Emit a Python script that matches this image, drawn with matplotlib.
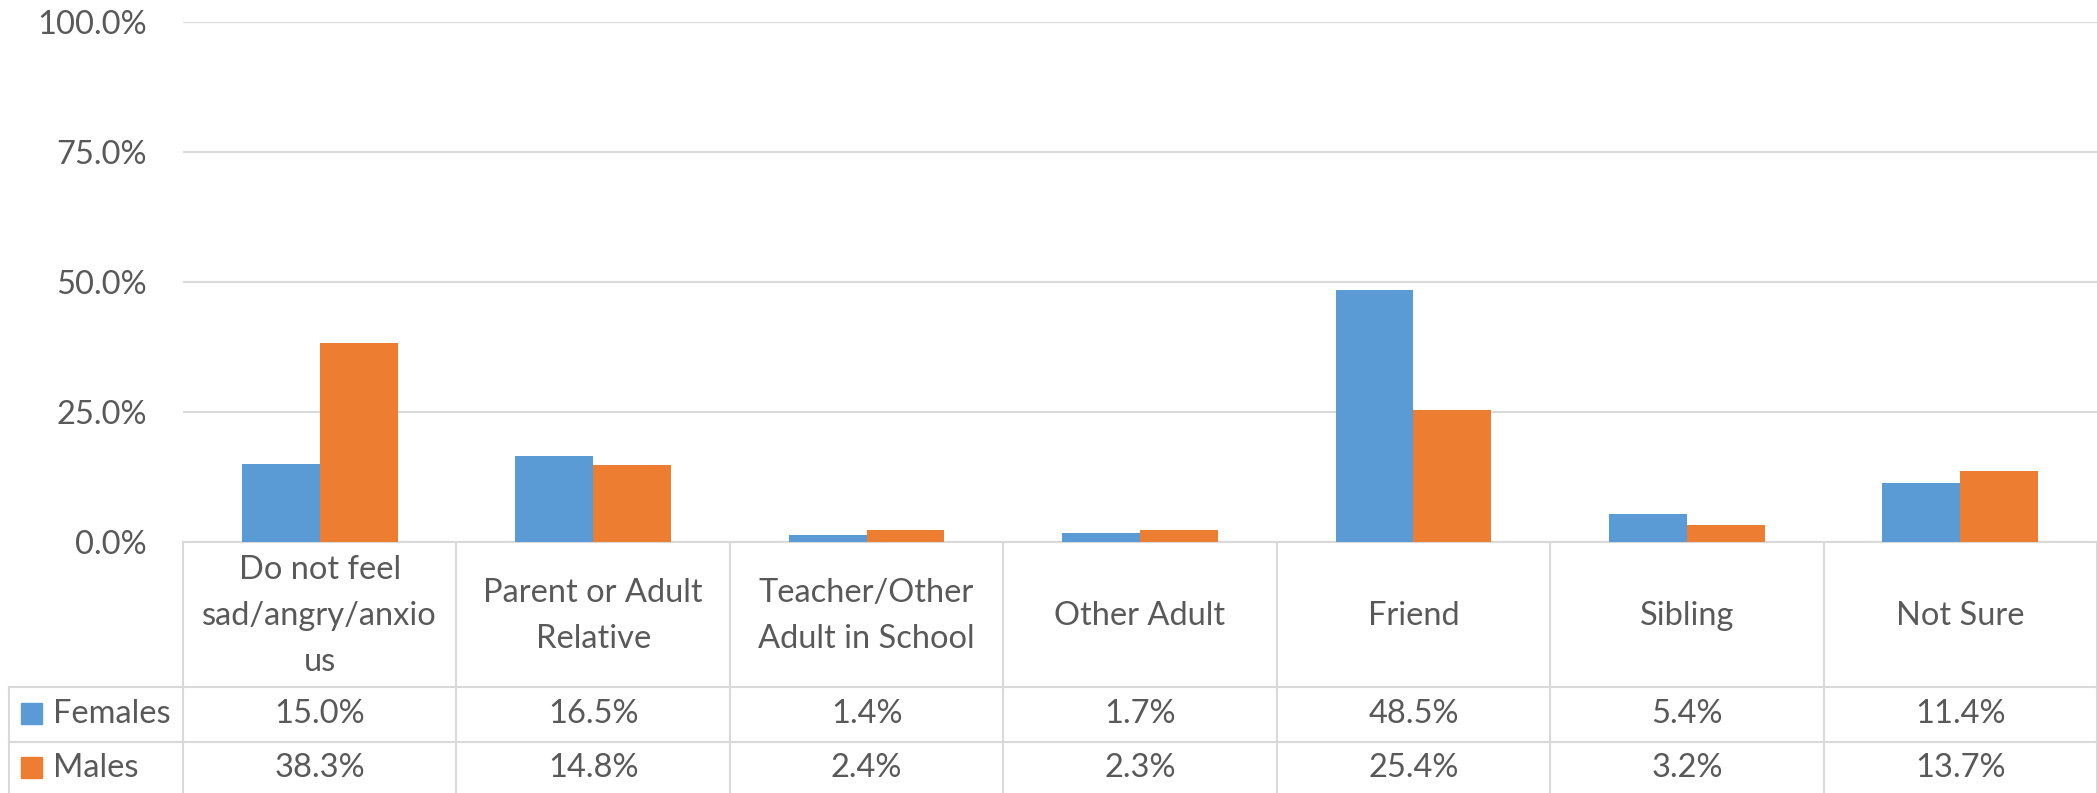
import numpy as np
import matplotlib
matplotlib.use('Agg')
import matplotlib.pyplot as plt
import matplotlib.transforms as mtransforms
from matplotlib.patches import Rectangle

plt.rcParams['font.family'] = ['Lato', 'DejaVu Sans']

# Data
categories = ['Do not feel\nsad/angry/anxio\nus', 'Parent or Adult\nRelative',
              'Teacher/Other\nAdult in School', 'Other Adult', 'Friend',
              'Sibling', 'Not Sure']
females = [15.0, 16.5, 1.4, 1.7, 48.5, 5.4, 11.4]
males = [38.3, 14.8, 2.4, 2.3, 25.4, 3.2, 13.7]
series_names = ['Females', 'Males']
yticks = [0, 25, 50, 75, 100]

blue = '#5B9BD5'
orange = '#ED7D31'
grid_c = '#D9D9D9'
text_c = '#595959'
fs = 23.5

W, H = 2097, 793
fig = plt.figure(figsize=(W / 100, H / 100), dpi=100)

def fy(py):
    return 1 - py / H

def fx(px):
    return px / W

ax_left, ax_top, ax_bottom = 183, 22, 542
ax = fig.add_axes([fx(ax_left), fy(ax_bottom), 1 - fx(ax_left), fy(ax_top) - fy(ax_bottom)])

x = np.arange(len(categories))
bw = 0.285
ax.bar(x - bw / 2, females, bw, color=blue, zorder=3)
ax.bar(x + bw / 2, males, bw, color=orange, zorder=3)

ax.set_xlim(-0.5, len(categories) - 0.5)
ax.set_ylim(0, 100)
ax.set_yticks(yticks)
ax.set_yticklabels([f'{v:.1f}%' for v in yticks], fontsize=fs, color=text_c)
ax.tick_params(axis='y', length=0, pad=26)
ax.tick_params(axis='x', length=0, labelbottom=False)
ax.grid(axis='y', color=grid_c, linewidth=1.5, zorder=0)
for s in ['top', 'right', 'left']:
    ax.spines[s].set_visible(False)
ax.spines['bottom'].set_color(grid_c)
ax.spines['bottom'].set_linewidth(1.5)

# data table below the axis
trans = mtransforms.blended_transform_factory(ax.transData, fig.transFigure)
row1, row2, tleft = 687, 742, 9
for i in range(len(categories) + 1):
    ax.plot([i - 0.5, i - 0.5], [fy(ax_bottom), 0], transform=trans, color=grid_c,
            lw=1.5, clip_on=False)
fig.add_artist(plt.Line2D([fx(tleft), 1], [fy(row1), fy(row1)], color=grid_c, lw=1.5))
fig.add_artist(plt.Line2D([fx(tleft), 1], [fy(row2), fy(row2)], color=grid_c, lw=1.5))
fig.add_artist(plt.Line2D([fx(tleft), fx(tleft)], [fy(row1), 0], color=grid_c, lw=1.5))

for i, cat in enumerate(categories):
    ax.text(i, fy(616), cat, transform=trans, ha='center', va='center',
            fontsize=fs, color=text_c, linespacing=1.65)
    ax.text(i, fy(714), f'{females[i]:.1f}%', transform=trans, ha='center',
            va='center', fontsize=fs, color=text_c)
    ax.text(i, fy(768), f'{males[i]:.1f}%', transform=trans, ha='center',
            va='center', fontsize=fs, color=text_c)

for name, col, yc in zip(series_names, [blue, orange], [714, 768]):
    fig.add_artist(Rectangle((fx(21), fy(yc + 10)), fx(21), 21 / H, color=col))
    fig.text(fx(53), fy(yc), name, ha='left', va='center', fontsize=fs, color=text_c)

fig.savefig('out.png', dpi=100)
